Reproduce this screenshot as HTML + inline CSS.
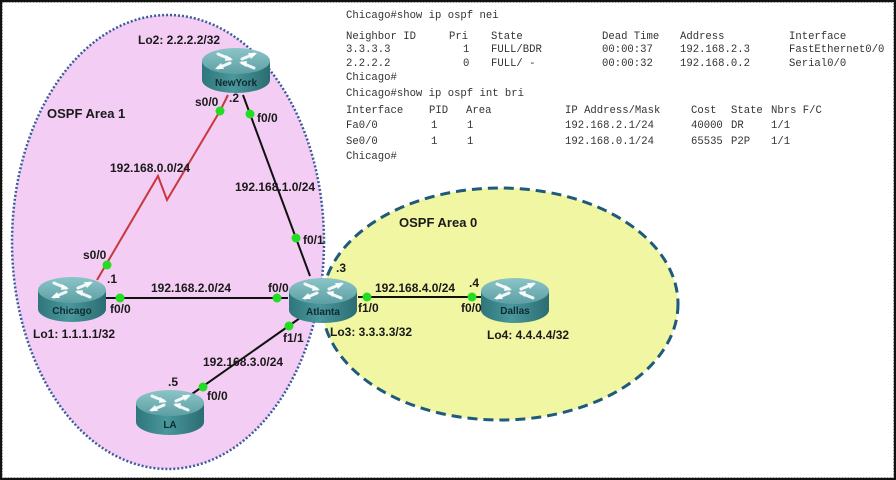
<!DOCTYPE html>
<html><head><meta charset="utf-8"><style>
html,body{margin:0;padding:0;background:#fff;}
svg{display:block;}
.l{font-family:"Liberation Sans",Arial,sans-serif;font-weight:bold;font-size:12px;fill:#1a1a1a;}
.a{font-family:"Liberation Sans",Arial,sans-serif;font-weight:bold;font-size:13px;fill:#1a1a1a;}
.n{font-family:"Liberation Sans",Arial,sans-serif;font-weight:bold;font-size:10px;fill:#0d2b30;}
.t{font-family:"Liberation Mono","DejaVu Sans Mono",monospace;font-size:10.6px;fill:#333;}
</style></head><body>
<svg width="896" height="480" viewBox="0 0 896 480" xmlns="http://www.w3.org/2000/svg">
<defs>
<linearGradient id="side" x1="0" x2="1" y1="0" y2="0">
<stop offset="0" stop-color="#2e767b"/><stop offset="0.45" stop-color="#4a979c"/><stop offset="1" stop-color="#2a6d72"/>
</linearGradient>
<linearGradient id="top" x1="0" x2="0" y1="0" y2="1">
<stop offset="0" stop-color="#8cc5c8"/><stop offset="1" stop-color="#5d9fa4"/>
</linearGradient>
<g id="rt">
<path d="M0,13 L0,32 A34,13 0 0 0 68,32 L68,13 Z" fill="url(#side)"/>
<ellipse cx="34" cy="13" rx="34" ry="13" fill="url(#top)"/>
<g stroke="#ffffff" stroke-width="3" stroke-linecap="round" opacity="0.9">
<line x1="16" y1="6" x2="28" y2="11"/><line x1="40" y1="15" x2="52" y2="20"/>
<line x1="52" y1="6" x2="40" y2="11"/><line x1="28" y1="15" x2="16" y2="20"/>
</g>
<g fill="#ffffff" opacity="0.9">
<polygon points="31,12 24,7 23,13"/><polygon points="37,14 44,19 45,13"/>
<polygon points="55,5 46,5 49,11"/><polygon points="13,21 22,21 19,15"/>
</g>
</g>
</defs>
<rect x="0" y="0" width="896" height="480" fill="#fff"/>
<!-- Area 1 -->
<ellipse cx="168" cy="242" rx="156" ry="227" fill="#f3cdf3" stroke="#3a5c9c" stroke-width="2.5" stroke-dasharray="2 2"/>
<!-- Area 0 -->
<ellipse cx="500" cy="304" rx="178" ry="116" fill="#f1f6a2" stroke="#1f5a7c" stroke-width="3" stroke-dasharray="10 6"/>

<!-- links -->
<polyline points="97,280 158,176 167,200 220,111 228,95" fill="none" stroke="#c8383c" stroke-width="2"/>
<line x1="243" y1="95" x2="310" y2="276" stroke="#111" stroke-width="2"/>
<line x1="105" y1="298" x2="288" y2="298" stroke="#111" stroke-width="2"/>
<line x1="300" y1="318" x2="192" y2="394" stroke="#111" stroke-width="2"/>
<line x1="358" y1="297" x2="482" y2="297" stroke="#111" stroke-width="2"/>

<!-- routers -->
<use href="#rt" x="202" y="48"/>
<use href="#rt" x="38" y="277"/>
<use href="#rt" x="289" y="278"/>
<use href="#rt" x="481" y="278"/>
<use href="#rt" x="136" y="390"/>
<text class="n" x="236" y="86" text-anchor="middle">NewYork</text>
<text class="n" x="72" y="314" text-anchor="middle">Chicago</text>
<text class="n" x="323" y="315" text-anchor="middle">Atlanta</text>
<text class="n" x="515" y="314" text-anchor="middle">Dallas</text>
<text class="n" x="170" y="428" text-anchor="middle">LA</text>

<!-- dots -->
<g fill="#22dd22">
<circle cx="220" cy="111" r="4.5"/><circle cx="250" cy="114" r="4.5"/>
<circle cx="296" cy="238" r="4.5"/><circle cx="107" cy="265" r="4.5"/>
<circle cx="120" cy="298" r="4.5"/><circle cx="277" cy="298" r="4.5"/>
<circle cx="289" cy="326" r="4.5"/><circle cx="203" cy="387" r="4.5"/>
<circle cx="367" cy="297" r="4.5"/><circle cx="472" cy="297" r="4.5"/>
</g>

<!-- labels -->
<text class="l" x="138" y="44">Lo2: 2.2.2.2/32</text>
<text class="a" x="47" y="118">OSPF Area 1</text>
<text class="l" x="195" y="106">s0/0</text>
<text class="l" x="229" y="102">.2</text>
<text class="l" x="257" y="122">f0/0</text>
<text class="l" x="110" y="172">192.168.0.0/24</text>
<text class="l" x="235" y="191">192.168.1.0/24</text>
<text class="l" x="303" y="244">f0/1</text>
<text class="l" x="83" y="259">s0/0</text>
<text class="l" x="107" y="283">.1</text>
<text class="l" x="110" y="313">f0/0</text>
<text class="l" x="151" y="292">192.168.2.0/24</text>
<text class="l" x="268" y="292">f0/0</text>
<text class="l" x="33" y="338">Lo1: 1.1.1.1/32</text>
<text class="l" x="283" y="342">f1/1</text>
<text class="l" x="203" y="366">192.168.3.0/24</text>
<text class="l" x="168" y="386">.5</text>
<text class="l" x="207" y="400">f0/0</text>
<text class="l" x="336" y="272">.3</text>
<text class="l" x="358" y="312">f1/0</text>
<text class="l" x="375" y="292">192.168.4.0/24</text>
<text class="l" x="469" y="287">.4</text>
<text class="l" x="461" y="312">f0/0</text>
<text class="l" x="330" y="336">Lo3: 3.3.3.3/32</text>
<text class="l" x="487" y="339">Lo4: 4.4.4.4/32</text>
<text class="a" x="399" y="227">OSPF Area 0</text>

<!-- terminal output -->
<g class="t">
<text x="346" y="18">Chicago#show ip ospf nei</text>
<text x="346" y="39">Neighbor ID</text><text x="449" y="39">Pri</text><text x="491" y="39">State</text><text x="602" y="39">Dead Time</text><text x="680" y="39">Address</text><text x="789" y="39">Interface</text>
<text x="346" y="52">3.3.3.3</text><text x="463" y="52">1</text><text x="491" y="52">FULL/BDR</text><text x="602" y="52">00:00:37</text><text x="680" y="52">192.168.2.3</text><text x="789" y="52">FastEthernet0/0</text>
<text x="346" y="66">2.2.2.2</text><text x="463" y="66">0</text><text x="491" y="66">FULL/  -</text><text x="602" y="66">00:00:32</text><text x="680" y="66">192.168.0.2</text><text x="789" y="66">Serial0/0</text>
<text x="346" y="80">Chicago#</text>
<text x="346" y="96">Chicago#show ip ospf int bri</text>
<text x="346" y="113">Interface</text><text x="429" y="113">PID</text><text x="466" y="113">Area</text><text x="565" y="113">IP Address/Mask</text><text x="691" y="113">Cost</text><text x="731" y="113">State</text><text x="771" y="113">Nbrs F/C</text>
<text x="346" y="128">Fa0/0</text><text x="431" y="128">1</text><text x="467" y="128">1</text><text x="565" y="128">192.168.2.1/24</text><text x="691" y="128">40000</text><text x="731" y="128">DR</text><text x="771" y="128">1/1</text>
<text x="346" y="144">Se0/0</text><text x="431" y="144">1</text><text x="467" y="144">1</text><text x="565" y="144">192.168.0.1/24</text><text x="691" y="144">65535</text><text x="731" y="144">P2P</text><text x="771" y="144">1/1</text>
<text x="346" y="159">Chicago#</text>
</g>

<!-- frame -->
<rect x="1" y="1" width="894" height="478" fill="none" stroke="#111" stroke-width="2"/>
<rect x="2.5" y="2.5" width="891" height="475" fill="none" stroke="#999" stroke-width="1" stroke-dasharray="2 1"/>
</svg>
</body></html>
